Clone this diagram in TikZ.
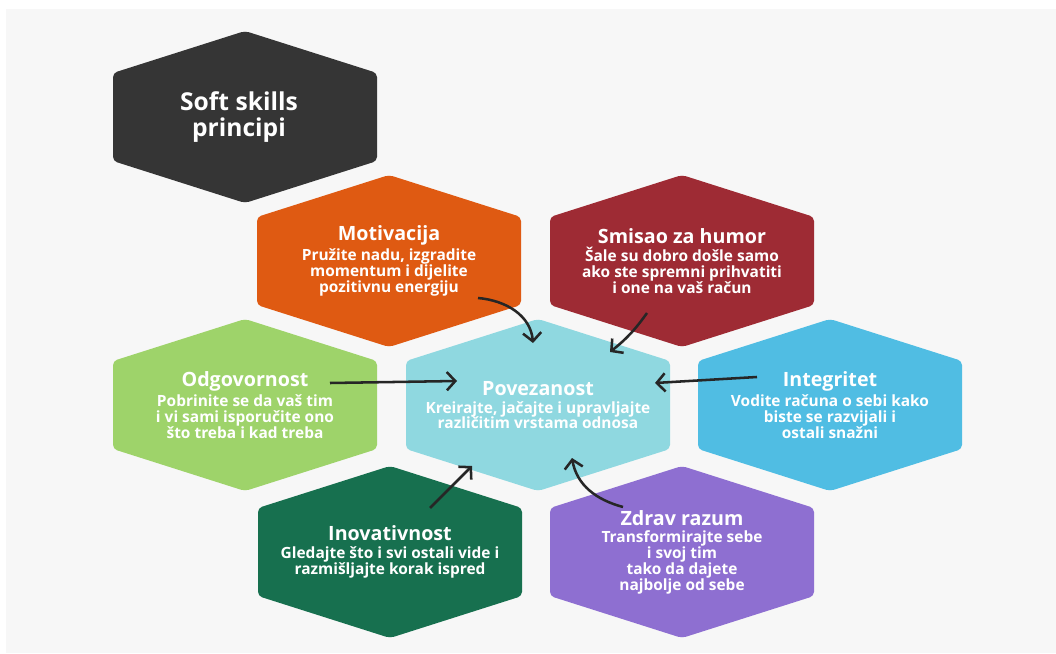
\documentclass[tikz,border=0pt]{standalone}
\usepackage{fontspec}
\setmainfont{Open Sans}
\usetikzlibrary{arrows.meta,calc}

\definecolor{softdark}{HTML}{353535}
\definecolor{motorange}{HTML}{DF5A12}
\definecolor{humred}{HTML}{9E2B34}
\definecolor{odggreen}{HTML}{9ED36A}
\definecolor{povcyan}{HTML}{8FD8E0}
\definecolor{intblue}{HTML}{50BDE3}
\definecolor{inovgreen}{HTML}{17704F}
\definecolor{zdravpurple}{HTML}{8E6FD1}
\definecolor{bggray}{HTML}{F7F7F7}

\tikzset{
  hextext/.style={text=white, align=center, inner sep=0pt,
    font=\bfseries\fontsize{11}{11.2}\selectfont},
  link/.style={-{Straight Barb[length=6pt,width=13pt]}, line width=1.8pt, draw=black!85},
}

% hexagon cell around a named centre
\newcommand{\hexcell}[2]{%
  \fill[#1, rounded corners=3pt] (#2) ++(0,2.15) -- ++(3.3,-1.05) -- ++(0,-2.2)
    -- ++(-3.3,-1.05) -- ++(-3.3,1.05) -- ++(0,2.2) -- cycle;}
\newcommand{\hd}[1]{{\fontsize{14}{11.2}\selectfont #1}\\[1.5pt]}

\begin{document}
\begin{tikzpicture}

	\useasboundingbox (0,0) rectangle (26.4,16.325);
	\fill[bggray] (0.15,0) rectangle (26.4,16.1);

	\coordinate (cSoft) at (6.125,13.4);
	\coordinate (cMot) at (9.725,9.8);
	\coordinate (cHum) at (17.05,9.8);
	\coordinate (cOdg) at (6.125,6.2);
	\coordinate (cPov) at (13.45,6.2);
	\coordinate (cInt) at (20.75,6.2);
	\coordinate (cInov) at (9.75,2.525);
	\coordinate (cZdrav) at (17.05,2.525);

	\hexcell{softdark}{cSoft}
	\hexcell{motorange}{cMot}
	\hexcell{humred}{cHum}
	\hexcell{odggreen}{cOdg}
	\hexcell{povcyan}{cPov}
	\hexcell{intblue}{cInt}
	\hexcell{inovgreen}{cInov}
	\hexcell{zdravpurple}{cZdrav}

	\node (soft) at ($(cSoft)+(-0.15,0)$) [hextext, font=\bfseries\fontsize{17.5}{19}\selectfont] {Soft skills\\principi};
	\node (mot) at (cMot) [hextext] {\hd{Motivacija}Pružite nadu, izgradite\\momentum i dijelite\\pozitivnu energiju};
	\node (hum) at (cHum) [hextext] {\hd{Smisao za humor}Šale su dobro došle samo\\ako ste spremni prihvatiti\\i one na vaš račun};
	\node (odg) at (cOdg) [hextext] {\hd{Odgovornost}Pobrinite se da vaš tim\\i vi sami isporučite ono\\što treba i kad treba};
	\node (pov) at (cPov) [hextext] {\hd{Povezanost}Kreirajte, jačajte i upravljajte\\različitim vrstama odnosa};
	\node (int) at (cInt) [hextext] {\hd{Integritet}Vodite računa o sebi kako\\biste se razvijali i\\ostali snažni};
	\node (inov) at (cInov) [hextext] {\hd{Inovativnost}Gledajte što i svi ostali vide i\\razmišljajte korak ispred};
	\node (zdrav) at (cZdrav) [hextext] {\hd{Zdrav razum}Transformirajte sebe\\i svoj tim\\tako da dajete\\najbolje od sebe};

	\draw[link] ($(mot)+(2.225,-0.925)$) to[out=-5,in=95] ($(pov)+(-0.125,1.55)$);
	\draw[link] ($(hum)+(-0.875,-1.3)$) to[bend left=8] ($(pov)+(1.8,1.325)$);
	\draw[link] ($(odg)+(2.125,0.55)$) -- ($(pov)+(-2.025,0.6)$);
	\draw[link] ($(int)+(-1.825,0.7)$) -- ($(pov)+(2.925,0.55)$);
	\draw[link] ($(inov)+(1.0,1.1)$) -- ($(pov)+(-1.65,-1.525)$);
	\draw[link] ($(zdrav)+(-1.475,1.125)$) to[out=165,in=-80] ($(pov)+(0.85,-1.325)$);

\end{tikzpicture}
\end{document}
